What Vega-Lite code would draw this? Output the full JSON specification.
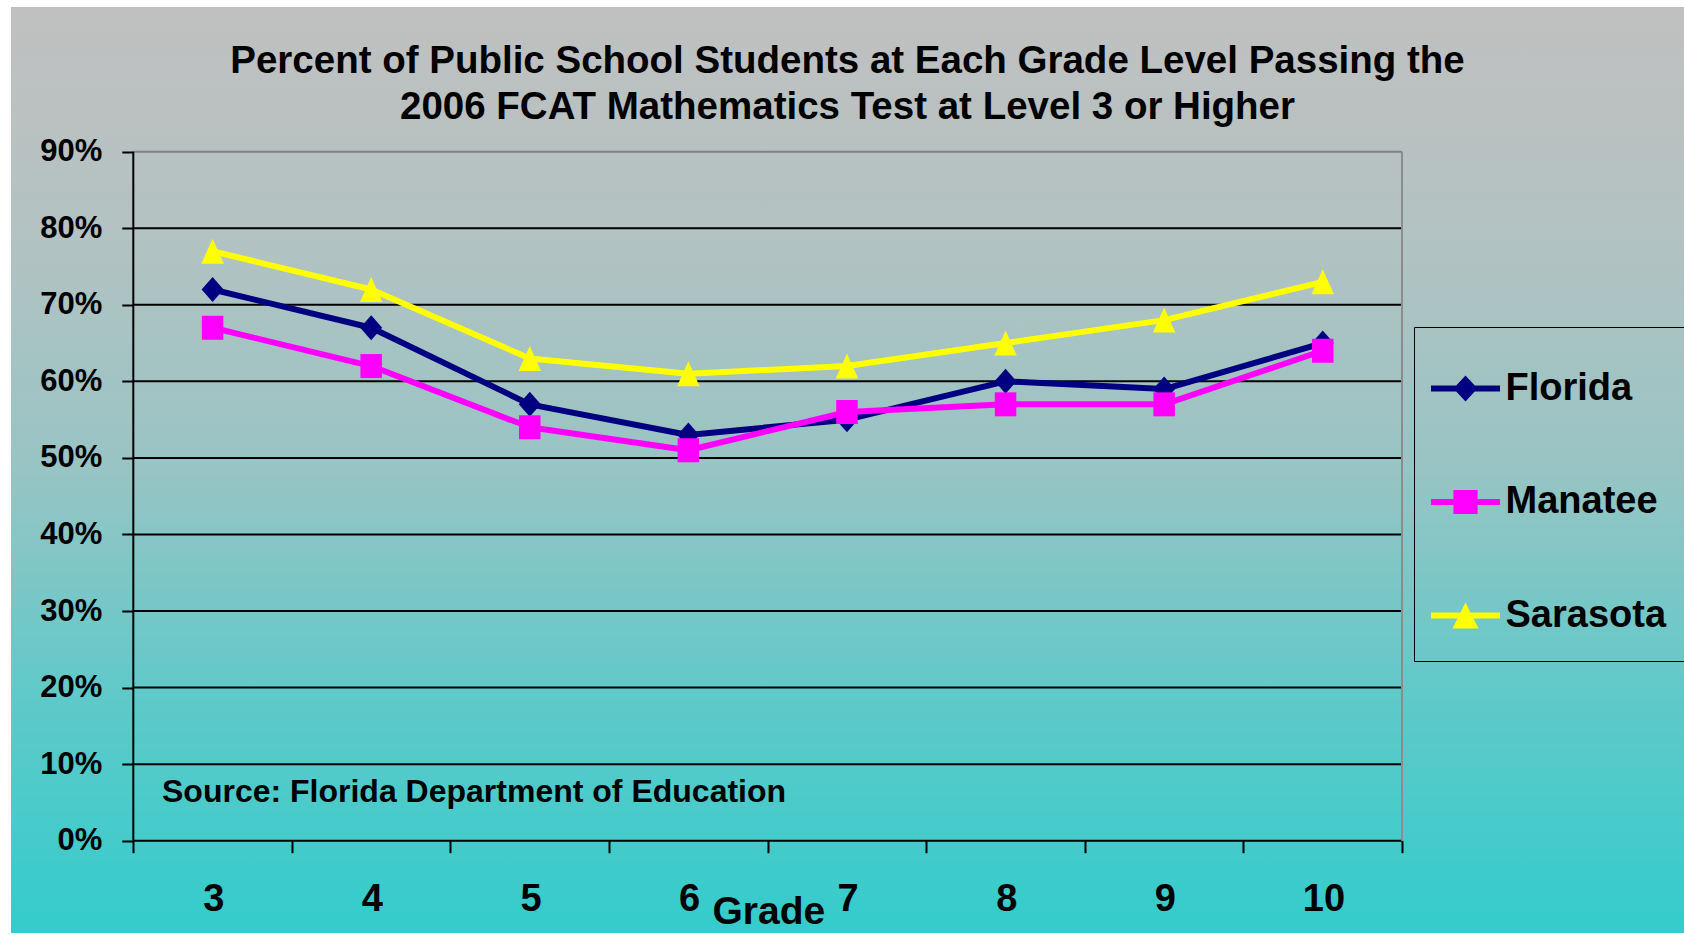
{
  "$schema": "https://vega.github.io/schema/vega-lite/v6.json",
  "width": 1673,
  "height": 926,
  "autosize": {"type": "none"},
  "padding": {"left": 11, "top": 7, "right": 0, "bottom": 2},
  "background": "white",
  "view": {
    "stroke": null,
    "fill": {
      "gradient": "linear",
      "x1": 0, "y1": 0, "x2": 0, "y2": 1,
      "stops": [
        {"offset": 0, "color": "#c0c0c0"},
        {"offset": 0.25, "color": "#b3c2c2"},
        {"offset": 0.5, "color": "#98c4c4"},
        {"offset": 0.75, "color": "#5fc9c9"},
        {"offset": 1, "color": "#33cccc"}
      ]
    }
  },
  "title": {
    "text": ["Percent of Public School Students at Each Grade Level Passing the", "2006 FCAT Mathematics Test at Level 3 or Higher"],
    "anchor": "middle",
    "frame": "group",
    "font": "Liberation Sans",
    "fontSize": 38.5,
    "fontWeight": "bold",
    "color": "black",
    "lineHeight": 45.6,
    "baseline": "alphabetic",
    "offset": -150.5
  },
  "datasets": {
    "scores": [
      {"grade": 3, "series": "Florida", "pct": 72},
      {"grade": 4, "series": "Florida", "pct": 67},
      {"grade": 5, "series": "Florida", "pct": 57},
      {"grade": 6, "series": "Florida", "pct": 53},
      {"grade": 7, "series": "Florida", "pct": 55},
      {"grade": 8, "series": "Florida", "pct": 60},
      {"grade": 9, "series": "Florida", "pct": 59},
      {"grade": 10, "series": "Florida", "pct": 65},
      {"grade": 3, "series": "Manatee", "pct": 67},
      {"grade": 4, "series": "Manatee", "pct": 62},
      {"grade": 5, "series": "Manatee", "pct": 54},
      {"grade": 6, "series": "Manatee", "pct": 51},
      {"grade": 7, "series": "Manatee", "pct": 56},
      {"grade": 8, "series": "Manatee", "pct": 57},
      {"grade": 9, "series": "Manatee", "pct": 57},
      {"grade": 10, "series": "Manatee", "pct": 64},
      {"grade": 3, "series": "Sarasota", "pct": 77},
      {"grade": 4, "series": "Sarasota", "pct": 72},
      {"grade": 5, "series": "Sarasota", "pct": 63},
      {"grade": 6, "series": "Sarasota", "pct": 61},
      {"grade": 7, "series": "Sarasota", "pct": 62},
      {"grade": 8, "series": "Sarasota", "pct": 65},
      {"grade": 9, "series": "Sarasota", "pct": 68},
      {"grade": 10, "series": "Sarasota", "pct": 73}
    ],
    "grid": [
      {"pct": 0}, {"pct": 10}, {"pct": 20}, {"pct": 30}, {"pct": 40},
      {"pct": 50}, {"pct": 60}, {"pct": 70}, {"pct": 80}, {"pct": 90}
    ],
    "frame": [{"grade": 2.5}, {"grade": 10.5}],
    "note": [{"note": "Source: Florida Department of Education"}]
  },
  "resolve": {
    "scale": {"shape": "independent"},
    "legend": {"color": "independent", "shape": "independent"}
  },
  "layer": [
    {
      "data": {"name": "grid"},
      "mark": {"type": "rule", "strokeWidth": 2},
      "encoding": {
        "y": {"field": "pct", "type": "quantitative"},
        "x": {"datum": 2.5, "type": "quantitative"},
        "x2": {"datum": 10.5},
        "stroke": {"condition": {"test": "datum.pct == 90", "value": "#808080"}, "value": "black"}
      }
    },
    {
      "data": {"name": "frame"},
      "mark": {"type": "rule", "strokeWidth": 2},
      "encoding": {
        "x": {"field": "grade", "type": "quantitative"},
        "y": {"datum": 0, "type": "quantitative"},
        "y2": {"datum": 90},
        "stroke": {"condition": {"test": "datum.grade > 10", "value": "#8c8c8c"}, "value": "black"}
      }
    },
    {
      "data": {"name": "note"},
      "mark": {"type": "text", "align": "left", "baseline": "alphabetic", "font": "Liberation Sans", "fontSize": 32, "fontWeight": "bold", "color": "black"},
      "encoding": {
        "x": {"datum": 2.681, "type": "quantitative"},
        "y": {"datum": 5.09, "type": "quantitative"},
        "text": {"field": "note"}
      }
    },
    {
      "data": {"name": "scores"},
      "mark": {"type": "line", "strokeWidth": 6, "strokeJoin": "round"},
      "encoding": {
        "x": {
          "field": "grade", "type": "quantitative",
          "scale": {"domain": [1.72883, 12.27804], "nice": false, "zero": false},
          "axis": {
            "values": [2.5, 3.5, 4.5, 5.5, 6.5, 7.5, 8.5, 9.5, 10.5],
            "labelExpr": "datum.value > 10 ? '' : format(datum.value + 0.5, 'd')",
            "labelOffset": 80,
            "title": "Grade",
            "titleX": 757.3,
            "titleY": 82.6,
            "titleBaseline": "alphabetic",
            "titleAlign": "center",
            "titleFont": "Liberation Sans",
            "titleFontSize": 39,
            "titleFontWeight": "bold",
            "titleColor": "black",
            "offset": -92.3,
            "domain": false,
            "grid": false,
            "ticks": true,
            "tickSize": 12,
            "tickWidth": 2,
            "tickColor": "black",
            "labelFont": "Liberation Sans",
            "labelFontSize": 38,
            "labelFontWeight": "bold",
            "labelColor": "black",
            "labelBaseline": "alphabetic",
            "labelAlign": "center",
            "labelPadding": 58,
            "labelOverlap": false,
            "labelFlush": false
          }
        },
        "y": {
          "field": "pct", "type": "quantitative",
          "scale": {"domain": [-12.057, 108.901], "nice": false, "zero": false},
          "axis": {
            "values": [0, 10, 20, 30, 40, 50, 60, 70, 80, 90],
            "labelExpr": "datum.value + '%'",
            "title": null,
            "offset": -122.3,
            "domain": false,
            "grid": false,
            "tickSize": 11.5,
            "tickWidth": 2,
            "tickColor": "black",
            "labelFont": "Liberation Sans",
            "labelFontSize": 31,
            "labelFontWeight": "bold",
            "labelColor": "black",
            "labelPadding": 20,
            "labelAlign": "right",
            "labelBaseline": "middle",
            "labelOverlap": false,
            "labelFlush": false
          }
        },
        "color": {
          "field": "series", "type": "nominal",
          "scale": {"domain": ["Florida", "Manatee", "Sarasota"], "range": ["#000080", "#ff00ff", "#ffff00"]},
          "legend": null
        }
      }
    },
    {
      "data": {"name": "scores"},
      "mark": {"type": "point", "filled": true, "size": 625, "opacity": 1, "strokeWidth": 0},
      "encoding": {
        "x": {"field": "grade", "type": "quantitative"},
        "y": {"field": "pct", "type": "quantitative"},
        "color": {"field": "series", "type": "nominal", "legend": null},
        "shape": {
          "field": "series", "type": "nominal",
          "scale": {"domain": ["Florida", "Manatee", "Sarasota"], "range": ["M0,-1L0.88,0L0,1L-0.88,0Z", "M-0.86,-0.96H0.86V0.96H-0.86Z", "M0,-1L0.9,1L-0.9,1Z"]},
          "legend": null
        }
      }
    },
    {
      "data": {"name": "scores"},
      "transform": [{"filter": "false"}],
      "mark": {"type": "point", "filled": true, "opacity": 1, "strokeWidth": 0},
      "encoding": {
        "x": {"field": "grade", "type": "quantitative"},
        "y": {"field": "pct", "type": "quantitative"},
        "color": {
          "field": "series", "type": "nominal",
          "legend": {
            "title": null,
            "orient": "none",
            "legendX": 1403,
            "legendY": 320,
            "direction": "vertical",
            "padding": 26,
            "rowPadding": 58.5,
            "strokeColor": "black",
            "symbolSize": 4761,
            "symbolOffset": -10,
            "symbolOpacity": 1,
            "labelFont": "Liberation Sans",
            "labelFontSize": 38,
            "labelFontWeight": "bold",
            "labelColor": "black",
            "labelOffset": 4.5,
            "labelLimit": 400
          }
        },
        "shape": {
          "field": "series", "type": "nominal",
          "scale": {"domain": ["Florida", "Manatee", "Sarasota"], "range": [
            "M-1,-0.085H1V0.085H-1Z M0,-0.38L0.35,0L0,0.38L-0.35,0Z",
            "M-1,-0.085H1V0.085H-1Z M-0.35,-0.35H0.35V0.35H-0.35Z",
            "M-1,-0.085H1V0.085H-1Z M0,-0.38L0.38,0.38L-0.38,0.38Z"
          ]},
          "legend": {
            "title": null,
            "orient": "none",
            "legendX": 1403,
            "legendY": 320,
            "direction": "vertical",
            "padding": 26,
            "rowPadding": 58.5,
            "strokeColor": "black",
            "symbolSize": 4761,
            "symbolOffset": -10,
            "symbolOpacity": 1,
            "labelFont": "Liberation Sans",
            "labelFontSize": 38,
            "labelFontWeight": "bold",
            "labelColor": "black",
            "labelOffset": 4.5,
            "labelLimit": 400
          }
        }
      }
    }
  ]
}
